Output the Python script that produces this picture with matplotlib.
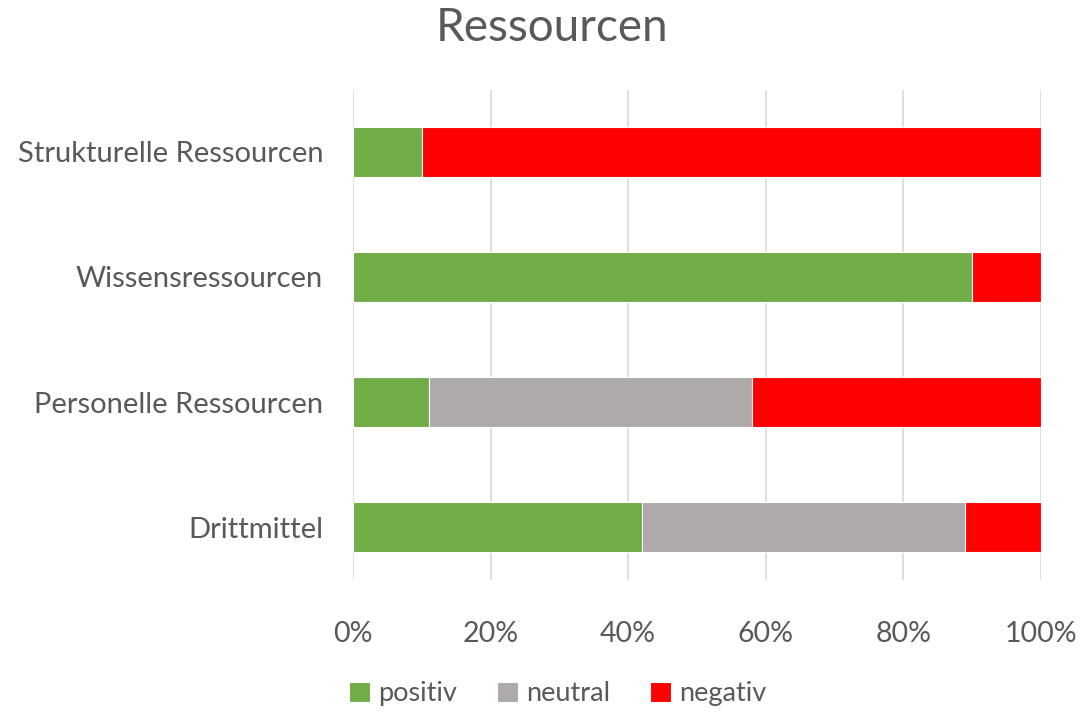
import numpy as np
import matplotlib.pyplot as plt
from matplotlib.ticker import PercentFormatter

plt.rcParams['font.family'] = ['Lato', 'DejaVu Sans']

categories = ['Drittmittel', 'Personelle Ressourcen', 'Wissensressourcen', 'Strukturelle Ressourcen']
positiv = [42, 11, 90, 10]
neutral = [47, 47, 0, 0]
negativ = [11, 42, 10, 90]

text_col = '#595959'
fig = plt.figure(figsize=(10.83, 7.12), dpi=100)
ax = fig.add_axes([0.326, 0.185, 0.635, 0.689])

y = np.arange(len(categories))
h = 0.4
left = np.zeros(len(categories))
for vals, col, lab in [(positiv, '#70AD47', 'positiv'),
                       (neutral, '#AEAAAA', 'neutral'),
                       (negativ, '#FF0000', 'negativ')]:
    ax.barh(y, vals, height=h, left=left, color=col, label=lab,
            edgecolor='white', linewidth=0.8, zorder=3)
    left += np.array(vals)

ax.set_xlim(0, 100)
ax.set_ylim(-0.424, 3.496)
ax.set_xticks([0, 20, 40, 60, 80, 100])
ax.xaxis.set_major_formatter(PercentFormatter(decimals=0))
ax.set_yticks(y)
ax.set_yticklabels(categories)
ax.grid(axis='x', color='#D9D9D9', linewidth=1.2, zorder=0)
for s in ax.spines.values():
    s.set_visible(False)
ax.tick_params(length=0, colors=text_col)
ax.tick_params(axis='x', labelsize=20.5, pad=29)
ax.tick_params(axis='y', labelsize=21, pad=21.5)

fig.suptitle('Ressourcen', fontsize=33, color=text_col, x=0.51, y=0.99)
fig.legend(loc='lower center', bbox_to_anchor=(0.515, -0.026), ncol=3, frameon=False,
           fontsize=19.5, labelcolor=text_col, handlelength=0.75, handleheight=0.75,
           handletextpad=0.3, columnspacing=1.5)

fig.savefig('out.png', dpi=100)
